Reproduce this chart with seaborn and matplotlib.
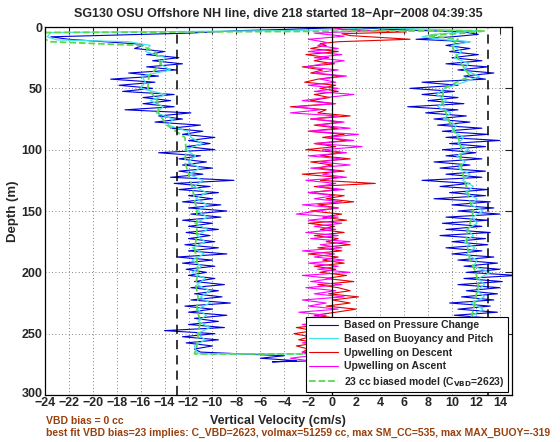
import numpy as np
import pandas as pd
import matplotlib
matplotlib.use("Agg")
import matplotlib.pyplot as plt
import matplotlib.transforms as mtransforms
import seaborn as sns

# depth grids (m)
grid_fine = np.arange(15, 265, 2.5)      # 15 .. 262.5
grid_mid = np.arange(15, 270, 5)         # 15 .. 265
grid_coarse = np.arange(20, 270, 10)     # 20 .. 260

# Based on Pressure Change (blue)
blue_top_depth = [0, 2, 3, 5, 8, 10, 12, 14]
blue_top_vel = [2.0, -4.0, -8.0, -12.0, -23.5, -22.0, -19.0, -16.0]
blue_desc = [
    -15.8, -16.5, -14.0, -15.5, -12.8, -15.0, -12.5, -15.5, -13.0, -17.0,
    -14.5, -18.5, -14.8, -17.8, -15.0, -17.5, -13.2, -15.8, -13.5, -15.8,
    -13.2, -17.3, -11.8, -14.5, -12.5, -14.8, -11.0, -13.5, -10.8, -12.5,
    -9.8, -12.0, -10.2, -12.2, -9.8, -14.5, -11.0, -12.8, -10.5, -12.5,
    -10.0, -12.8, -10.8, -13.5, -8.2, -13.2, -10.2, -12.8, -9.5, -12.0,
    -10.0, -12.5, -9.3, -12.0, -8.8, -11.8, -9.3, -12.5, -10.0, -12.0,
    -9.5, -12.2, -10.2, -12.0, -9.8, -12.3, -9.5, -12.0, -8.8, -13.0,
    -10.0, -12.5, -9.8, -12.2, -10.5, -12.0, -9.8, -11.5, -9.0, -11.8,
    -9.5, -11.5, -9.2, -11.8, -8.5, -12.3, -10.0, -12.0, -8.8, -11.5,
    -9.5, -12.0, -9.0, -14.0, -9.8, -12.5, -9.5, -12.2, -10.0, -11.5,
]
blue_bot_depth = [265, 268, 270, 272, 273, 271, 268, 265]
blue_bot_vel = [-11.0, -4.0, -6.0, -3.0, -5.0, 3.0, 8.0, 11.0]
blue_asc = [
    9.5, 11.5, 9.8, 12.2, 10.0, 12.5, 9.5, 13.0, 10.5, 13.5,
    11.0, 12.8, 7.5, 10.5, 6.5, 10.2, 7.5, 10.5, 8.0, 11.0,
    6.3, 10.5, 7.8, 11.2, 8.5, 11.5, 8.8, 12.5, 9.2, 13.0,
    9.5, 14.0, 9.8, 12.8, 9.2, 12.0, 9.5, 12.5, 8.5, 11.5,
    9.0, 12.8, 9.5, 12.5, 7.5, 11.5, 9.0, 13.0, 9.8, 12.8,
    8.5, 13.2, 10.0, 13.5, 10.5, 14.0, 9.5, 13.0, 9.2, 12.5,
    9.5, 13.2, 9.0, 12.8, 10.0, 13.0, 9.5, 12.5, 10.0, 13.5,
    10.5, 13.8, 11.0, 14.0, 11.2, 15.5, 11.0, 14.2, 10.5, 14.0,
    11.2, 13.8, 10.8, 13.5, 9.8, 13.2, 10.5, 13.8, 10.2, 13.5,
    10.8, 13.0, 10.5, 13.2, 10.2, 13.0, 10.5, 12.8, 10.2, 12.5,
]
blue_end_depth = [12, 10, 8, 6, 4, 2, 0]
blue_end_vel = [11.5, 7.0, 10.0, 12.2, 11.0, 5.0, 1.0]

# Based on Buoyancy and Pitch (cyan)
cyan_top_depth = [0, 2, 3, 4.5, 8, 10.5, 12]
cyan_top_vel = [3.0, 1.0, -4.0, -23.5, -23.8, -23.0, -17.0]
cyan_desc = [
    -15.2, -15.6, -13.9, -14.4, -13.5, -15.9, -15.6, -16.0, -13.9, -15.2,
    -14.1, -14.7, -13.3, -13.7, -12.1, -11.8, -10.8, -12.3, -11.4, -12.0,
    -11.0, -12.0, -10.8, -11.5, -10.5, -11.4, -10.4, -11.3, -10.4, -11.5,
    -10.4, -11.3, -10.6, -11.7, -10.7, -11.7, -10.9, -11.7, -10.6, -11.3,
    -10.2, -11.0, -10.2, -11.3, -10.5, -11.2, -10.2, -11.3, -10.6, -11.5, -11.3,
]
cyan_bot_depth = [266.5, 266.5]
cyan_bot_vel = [-11.0, 11.0]
cyan_asc = [
    10.0, 10.8, 10.2, 11.4, 11.0, 12.3, 11.0, 9.4, 8.7, 9.5,
    8.8, 9.9, 9.3, 10.4, 10.0, 11.0, 10.5, 11.4, 10.4, 11.1,
    10.5, 11.5, 10.9, 11.8, 11.1, 12.1, 11.6, 12.6, 11.7, 12.1,
    11.2, 11.8, 11.0, 11.9, 11.2, 12.1, 11.8, 13.2, 12.2, 12.7,
    12.1, 12.7, 11.6, 12.6, 11.7, 12.2, 11.5, 12.4, 11.4, 11.9, 11.2,
]
cyan_end_depth = [12, 10, 8, 6, 4, 3, 1, 0]
cyan_end_vel = [11.5, 9.0, 7.5, 8.5, 11.0, 12.0, 5.0, 1.0]

# Upwelling on Descent (red)
red_top_depth = [0, 2, 4, 5.5, 7, 10, 12, 13.5]
red_top_vel = [0.0, 0.8, 6.2, 0.8, 1.5, 6.5, 0.5, -1.0]
red_desc = [
    -0.5, -1.8, 0.5, -2.2, -0.3, -1.5, 0.2, -2.5, -0.8, -1.8,
    0.8, -1.2, -2.3, 0.3, -1.0, 0.5, -1.5, -0.2, -1.8, 0.2,
    -3.5, -0.5, -1.2, 1.5, -1.8, 0.8, -1.5, 0.5, -2.0, 1.0,
    -0.8, 1.2, -1.5, 0.3, -2.2, 0.8, -1.0, 1.5, -1.8, 0.0,
    -1.2, 1.0, -2.5, 0.5, -1.0, 3.6, -1.5, 0.5, -2.0, 1.0,
    -0.5, 1.8, -1.2, 0.5, -1.8, 0.8, -0.8, 1.2, -2.0, 0.2,
    -1.0, 1.0, -1.5, 0.5, -0.5, 1.5, -1.2, 0.8, -2.0, 0.5,
    -0.8, 1.0, -1.5, 0.3, -1.0, 1.2, -0.5, 1.8, -1.2, 0.5,
    1.5, -0.3, 2.2, 0.0, 1.5, -0.5, 2.0, 0.3, -1.5, 0.5,
    -2.0, -0.5, -3.0, -1.5, -3.2, -1.8, -2.8, -1.2, -3.0, -2.0,
]
red_bot_depth = [265, 267]
red_bot_vel = [-2.5, -1.0]

# Upwelling on Ascent (magenta)
mag_bot_depth = [272, 270, 268, 265]
mag_bot_vel = [-2.0, -3.5, -1.8, -2.5]
mag_asc = [
    -1.2, 0.5, -2.0, 0.8, -1.5, 1.0, -0.8, -2.2, 0.5, -1.5,
    1.2, -1.0, 0.3, -2.0, 0.5, -1.5, 1.8, -0.5, -2.5, 0.3,
    -3.0, -1.0, -3.5, 0.5, -1.8, 1.0, -1.2, 1.5, -2.0, 2.2,
    -0.5, 1.8, -1.5, 2.5, -0.8, 1.2, -2.0, 0.8, -1.0, 1.5,
    -1.8, 0.5, -0.8, 1.2, -2.2, 0.3, -1.2, 1.0, -2.0, 0.2,
    -1.5, 0.8, -2.5, 0.5, -1.2, -3.0, 0.5, -2.0, 0.8, -1.5,
    0.3, -2.2, 0.5, -1.8, 1.5, -1.0, 0.8, -2.5, 0.2, -1.5,
    1.0, -2.0, 0.5, -1.2, 1.5, -2.5, 0.0, -1.8, 0.8, -2.2,
    0.3, -1.5, 1.0, -2.5, -0.5, -2.0, 0.5, -2.8, -0.5, -2.2,
    0.2, -2.5, -0.8, -2.0, 0.3, -2.2, -1.0, -2.5, 0.0, -1.5,
]
mag_end_depth = [12.5, 10, 7.5, 5, 3, 1.5, 0]
mag_end_vel = [-0.5, -2.0, 1.0, -1.5, 3.5, 0.5, 0.0]

# 23 cc biased model (green dashed)
green_top_depth = [3, 4.5, 10, 12, 15]
green_top_vel = [12.5, -24.0, -24.0, -23.5, -16.0]
green_desc = [
    -14.8, -14.3, -15.3, -15.4, -14.6, -14.5, -13.8, -12.3, -12.2, -12.3,
    -12.0, -11.7, -11.5, -11.3, -11.3, -11.3, -11.5, -11.3, -11.2, -11.4,
    -11.2, -11.3, -11.0, -11.2, -11.3,
]
green_bot_depth = [266.5, 266.5]
green_bot_vel = [-11.5, 11.5]
green_asc = [
    10.2, 10.8, 11.5, 9.3, 9.2, 9.5, 9.9, 10.5, 10.8, 10.7,
    10.9, 11.2, 11.4, 11.8, 11.5, 11.2, 11.3, 11.5, 12.0, 12.2,
    12.0, 11.8, 11.5, 11.6, 11.5,
]
green_end_depth = [15, 10, 7, 5, 3.5, 2.5]
green_end_vel = [10.0, 10.5, 8.0, 11.0, 12.5, 13.0]

legend_labels = [
    "Based on Pressure Change",
    "Based on Buoyancy and Pitch",
    "Upwelling on Descent",
    "Upwelling on Ascent",
    r"23 cc biased model (C$_{\mathbf{VBD}}$=2623)",
]


def profile(down_d, down_v, up_d=(), up_v=()):
    # descent goes down the list, ascent comes back up (reverse the grid)
    d = list(down_d) + list(up_d)
    v = list(down_v) + list(up_v)
    return pd.DataFrame({"vel": v, "depth": d})


blue_df = profile(
    blue_top_depth + list(grid_fine) + blue_bot_depth,
    blue_top_vel + blue_desc + blue_bot_vel,
    list(grid_fine[::-1]) + blue_end_depth,
    blue_asc[::-1] + blue_end_vel,
)
cyan_df = profile(
    cyan_top_depth + list(grid_mid) + cyan_bot_depth,
    cyan_top_vel + cyan_desc + cyan_bot_vel,
    list(grid_mid[::-1]) + cyan_end_depth,
    cyan_asc[::-1] + cyan_end_vel,
)
red_df = profile(
    red_top_depth + list(grid_fine) + red_bot_depth,
    red_top_vel + red_desc + red_bot_vel,
)
mag_df = profile(
    mag_bot_depth + list(grid_fine[::-1]) + mag_end_depth,
    mag_bot_vel + mag_asc[::-1] + mag_end_vel,
)
green_df = profile(
    green_top_depth + list(grid_coarse) + green_bot_depth,
    green_top_vel + green_desc + green_bot_vel,
    list(grid_coarse[::-1]) + green_end_depth,
    green_asc[::-1] + green_end_vel,
)

sns.set_style("white")
plt.rcParams["font.family"] = ["Liberation Sans", "DejaVu Sans"]
plt.rcParams["font.weight"] = "bold"
plt.rcParams["mathtext.default"] = "bf"

fig = plt.figure(figsize=(5.6, 4.42), dpi=100)
ax = fig.add_axes([0.080, 0.1063, 0.834, 0.8326])

kw = dict(x="vel", y="depth", sort=False, estimator=None, orient="y", ax=ax)
sns.lineplot(data=blue_df, color=(0.0, 0.0, 0.85), lw=0.8, label=legend_labels[0], **kw)
sns.lineplot(data=cyan_df, color=(0.25, 0.9, 0.9), lw=0.9, label=legend_labels[1], **kw)
sns.lineplot(data=red_df, color=(0.9, 0.0, 0.0), lw=0.8, label=legend_labels[2], **kw)
sns.lineplot(data=mag_df, color=(1.0, 0.0, 1.0), lw=0.8, label=legend_labels[3], **kw)
sns.lineplot(data=green_df, color=(0.35, 0.85, 0.3), lw=1.3, linestyle="--",
             label=legend_labels[4], **kw)

ax.axvline(0, color="black", lw=0.9)
ax.axvline(-13, color="black", lw=1.1, ls=(0, (6, 4)))
ax.axvline(13, color="black", lw=1.1, ls=(0, (6, 4)))

ax.set_xlim(-24, 15)
ax.set_ylim(300, 0)
ax.set_xticks(np.arange(-24, 15, 2))
ax.set_yticks(np.arange(0, 301, 50))
ax.grid(True, color="0.35", ls=(0, (1, 3)), lw=0.6)
ax.tick_params(direction="in", top=True, right=True, length=5, width=0.8,
               labelsize=9, pad=1.5)
for t in ax.get_xticklabels() + ax.get_yticklabels():
    t.set_fontweight("bold")
for s in ax.spines.values():
    s.set_color("black")
    s.set_linewidth(0.9)

# lift the "300" label a little so it sits clear of the x tick labels
lab300 = ax.get_yticklabels()[-1]
lab300.set_transform(lab300.get_transform()
                     + mtransforms.ScaledTranslation(0, 3 / 100, fig.dpi_scale_trans))

ax.set_xlabel("Vertical Velocity (cm/s)", fontsize=9, fontweight="bold", labelpad=4)
ax.set_ylabel("Depth (m)", fontsize=9.5, fontweight="bold", labelpad=2)
ax.set_title("SG130 OSU Offshore NH line, dive 218 started 18\u2212Apr\u22122008 04:39:35",
             fontsize=9, fontweight="bold", pad=7)

leg = ax.legend(loc="lower right", bbox_to_anchor=(0.992, 0.008), fontsize=7.5,
                frameon=True, fancybox=False, framealpha=1, edgecolor="black",
                handlelength=2.8, labelspacing=0.35, borderpad=0.3,
                handletextpad=0.6, borderaxespad=0)
leg.get_frame().set_linewidth(0.8)
for t in leg.get_texts():
    t.set_fontweight("bold")

brown = (0.6, 0.25, 0.05)
fig.text(0.083, 0.0475, "VBD bias = 0 cc", color=brown, fontsize=7.5,
         fontweight="bold", va="center")
fig.text(0.083, 0.0204,
         "best fit VBD bias=23 implies: C_VBD=2623, volmax=51259 cc, "
         "max SM_CC=535, max MAX_BUOY=-319",
         color=brown, fontsize=7.5, fontweight="bold", va="center")

fig.savefig("out.png", dpi=100)
